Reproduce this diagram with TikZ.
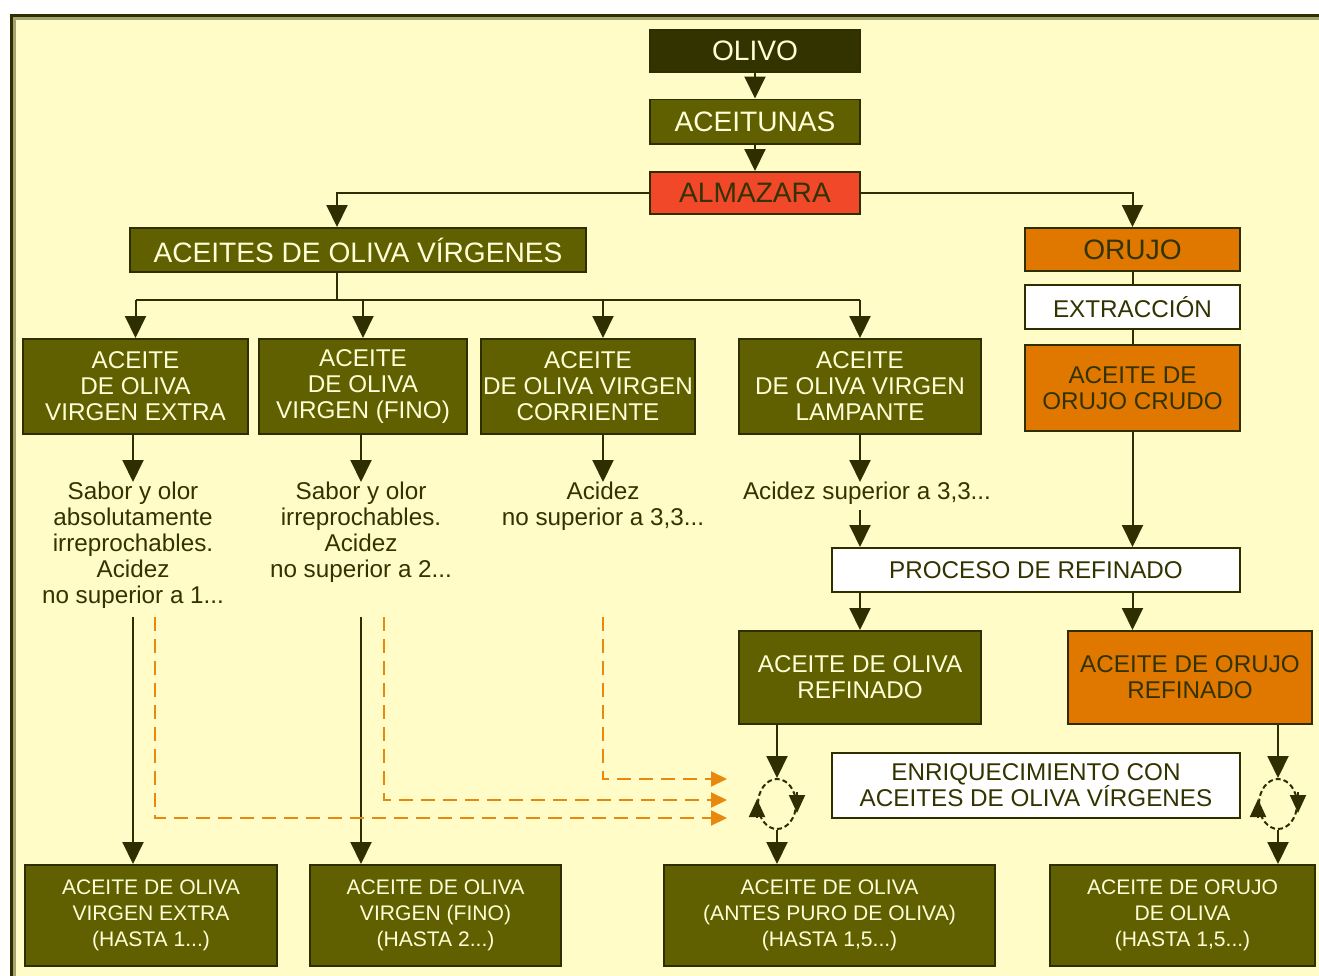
\documentclass[tikz,border=0pt]{standalone}
\usepackage{fontspec}
\setmainfont{Liberation Sans}
\usetikzlibrary{arrows.meta,shapes.geometric}
\definecolor{paper}{HTML}{FFFCC8}
\definecolor{edge}{HTML}{2E2E00}
\definecolor{rimgrey}{HTML}{A4A470}
\definecolor{olivefill}{HTML}{606000}
\definecolor{darkfill}{HTML}{333300}
\definecolor{redfill}{HTML}{F04828}
\definecolor{orangefill}{HTML}{E07800}
\definecolor{cream}{HTML}{FFFFD8}
\definecolor{dashorange}{HTML}{E8890F}

\begin{document}
\begin{tikzpicture}[x=0.02cm, y=-0.02cm,
    box/.style={shape=rectangle, draw=edge, line width=0.04cm, align=center, inner sep=0pt},
    big/.style={font=\fontsize{16}{19}\selectfont},
    mid/.style={font=\fontsize{13.8}{14.8}\selectfont},
    small/.style={font=\fontsize{12}{14.8}\selectfont},
    darkbox/.style={box, big, fill=darkfill, text=cream},
    olivebox/.style={box, fill=olivefill, text=cream},
    redbox/.style={box, big, fill=redfill, text=darkfill},
    orangebox/.style={box, fill=orangefill, text=darkfill},
    whitebox/.style={box, mid, fill=white, text=darkfill},
    note/.style={align=center, inner sep=0pt, anchor=north, text=darkfill, mid},
    mix/.style={shape=ellipse, draw=edge, line width=0.04cm, dash pattern=on 0.1cm off 0.06cm,
                minimum width=0.76cm, minimum height=1.0cm, inner sep=0pt},
    line/.style={draw=edge, line width=0.04cm},
    arr/.style={line, -{Triangle[width=0.42cm,length=0.44cm]}},
    tip/.style={line, -{Triangle[width=0.32cm,length=0.36cm]}},
    orangearr/.style={draw=dashorange, line width=0.04cm, dash pattern=on 0.28cm off 0.16cm,
                      -{Triangle[width=0.3cm,length=0.32cm]}}]
    \useasboundingbox (0,0) rectangle (1319,976);
    % frame
    \fill[white] (0,0) rectangle (1319,976);
    \fill[paper] (10,14) rectangle (1319,976);
    \draw[rimgrey, line width=0.05cm] (14.5,976) -- (14.5,18.5) -- (1319,18.5);
    \draw[edge, line width=0.06cm] (11.5,976) -- (11.5,15.5) -- (1319,15.5);

    % top chain
    \node[darkbox, minimum width=4.2cm, minimum height=0.84cm] (olivo) at (755,51) {OLIVO};
    \node[olivebox, big, minimum width=4.2cm, minimum height=0.9cm] (aceitunas) at (755,122) {ACEITUNAS};
    \node[redbox, minimum width=4.2cm, minimum height=0.84cm] (almazara) at (755,193) {ALMAZARA};
    \node[olivebox, big, minimum width=9.12cm, minimum height=0.88cm] (virg) at (358,250) {ACEITES DE OLIVA VÍRGENES};
    \node[orangebox, big, minimum width=4.3cm, minimum height=0.86cm] (orujo) at (1132.5,249.5) {ORUJO};
    \node[whitebox, minimum width=4.3cm, minimum height=0.88cm] (extr) at (1132.5,307) {EXTRACCIÓN};
    \node[orangebox, mid, minimum width=4.3cm, minimum height=1.72cm] (crudo) at (1132.5,388) {ACEITE DE\\ORUJO CRUDO};

    % virgin oils
    \node[olivebox, mid, minimum width=4.5cm, minimum height=1.9cm] (extra) at (135.5,386.5) {ACEITE\\DE OLIVA\\VIRGEN EXTRA};
    \node[olivebox, mid, minimum width=4.16cm, minimum height=1.9cm] (fino) at (363,386.5) {ACEITE\\DE OLIVA\\VIRGEN (FINO)};
    \node[olivebox, mid, minimum width=4.28cm, minimum height=1.9cm] (corr) at (588,386.5) {ACEITE\\DE OLIVA VIRGEN\\CORRIENTE};
    \node[olivebox, mid, minimum width=4.84cm, minimum height=1.9cm] (lamp) at (860,386.5) {ACEITE\\DE OLIVA VIRGEN\\LAMPANTE};

    \node[note] (extratxt) at (133,482) {Sabor y olor\\absolutamente\\irreprochables.\\Acidez\\no superior a 1...};
    \node[note] (finotxt) at (361,482) {Sabor y olor\\irreprochables.\\Acidez\\no superior a 2...};
    \node[note] (corrtxt) at (603,482) {Acidez\\no superior a 3,3...};
    \node[note] (lamptxt) at (867,482) {Acidez superior a 3,3...};

    % refining
    \node[whitebox, minimum width=8.16cm, minimum height=0.88cm] (proc) at (1036,570) {PROCESO DE REFINADO};
    \node[olivebox, mid, minimum width=4.84cm, minimum height=1.86cm] (refol) at (860,677.5) {ACEITE DE OLIVA\\REFINADO};
    \node[orangebox, mid, minimum width=4.88cm, minimum height=1.86cm] (refor) at (1190,677.5) {ACEITE DE ORUJO\\REFINADO};
    \node[whitebox, minimum width=8.16cm, minimum height=1.3cm] (enriq) at (1036,785.5) {ENRIQUECIMIENTO CON\\ACEITES DE OLIVA VÍRGENES};
    \node[mix] (mixA) at (777,804) {};
    \node[mix] (mixB) at (1278,804) {};

    % final products
    \node[olivebox, small, minimum width=5.04cm, minimum height=2.02cm] (b1) at (151,915.5) {ACEITE DE OLIVA\\VIRGEN EXTRA\\(HASTA 1...)};
    \node[olivebox, small, minimum width=5.02cm, minimum height=2.02cm] (b2) at (435.5,915.5) {ACEITE DE OLIVA\\VIRGEN (FINO)\\(HASTA 2...)};
    \node[olivebox, small, minimum width=6.62cm, minimum height=2.02cm] (b3) at (829.5,915.5) {ACEITE DE OLIVA\\(ANTES PURO DE OLIVA)\\(HASTA 1,5...)};
    \node[olivebox, small, minimum width=5.3cm, minimum height=2.02cm] (b4) at (1182.5,915.5) {ACEITE DE ORUJO\\DE OLIVA\\(HASTA 1,5...)};

    \coordinate (jv) at (337,300);
    \coordinate (cut) at (0,617);
    \coordinate (dashC) at (155,617);
    \coordinate (dashB) at (384,617);
    \coordinate (inA) at (727,779);
    \coordinate (inB) at (727,800);
    \coordinate (inC) at (727,818);

    % connectors
    \draw[arr] (olivo) -- (aceitunas);
    \draw[arr] (aceitunas) -- (almazara);
    \draw[arr] (almazara.west) -| (virg.north -| jv);
    \draw[arr] (almazara.east) -| (orujo.north);
    \draw[line] (orujo.south) -- (extr.north);
    \draw[line] (extr.south) -- (crudo.north);
    \draw[arr] (crudo.south) -- (proc.north -| crudo);

    \draw[line] (virg.south -| jv) -- (jv);
    \draw[line] (extra.north |- jv) -- (lamp.north |- jv);
    \draw[arr] (extra.north |- jv) -- (extra.north);
    \draw[arr] (fino.north |- jv) -- (fino.north);
    \draw[arr] (corrtxt |- jv) -- (corr.north -| corrtxt);
    \draw[arr] (lamp.north |- jv) -- (lamp.north);

    \draw[arr] (extra.south -| extratxt) -- (extratxt.north);
    \draw[arr] (fino.south -| finotxt) -- (finotxt.north);
    \draw[arr] (corr.south -| corrtxt) -- (corrtxt.north);
    \draw[arr] (lamp.south) -- (lamp.south |- lamptxt.north);
    \draw[arr] ([yshift=-0.1cm]lamp |- lamptxt.south) -- (lamp |- proc.north);

    \draw[arr] (proc.south -| refol) -- (refol.north);
    \draw[arr] (proc.south -| crudo) -- (refor.north -| crudo);

    \draw[arr] (extratxt |- cut) -- (b1.north -| extratxt);
    \draw[arr] (finotxt |- cut) -- (b2.north -| finotxt);
    \draw[orangearr] (corrtxt |- cut) |- (inA);
    \draw[orangearr] (dashB) |- (inB);
    \draw[orangearr] (dashC) |- (inC);

    \draw[arr] (refol.south -| mixA) -- (mixA.north);
    \draw[arr] (mixA.south) -- (b3.north -| mixA);
    \draw[tip] ([yshift=0.24cm]mixA.east) -- ([yshift=-0.18cm]mixA.east);
    \draw[tip] ([yshift=-0.28cm]mixA.west) -- ([yshift=0.1cm]mixA.west);
    \draw[arr] (refor.south -| mixB) -- (mixB.north);
    \draw[arr] (mixB.south) -- (b4.north -| mixB);
    \draw[tip] ([yshift=0.24cm]mixB.east) -- ([yshift=-0.18cm]mixB.east);
    \draw[tip] ([yshift=-0.28cm]mixB.west) -- ([yshift=0.1cm]mixB.west);
\end{tikzpicture}
\end{document}
